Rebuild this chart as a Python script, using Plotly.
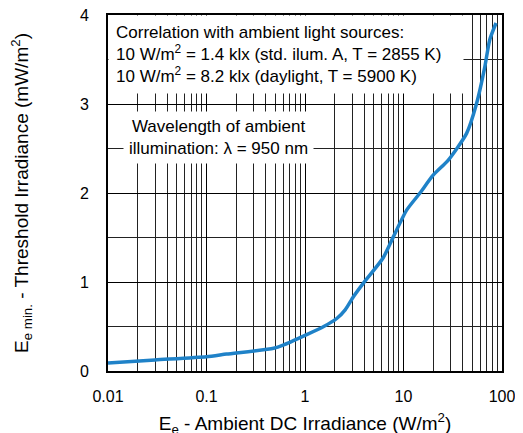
import plotly.graph_objects as go

# Data
ambient_irradiance = [0.01, 0.03, 0.1, 0.16, 0.48, 0.6, 1.0, 1.55, 2.1, 2.57, 3.1, 3.9,
                      6.2, 7.9, 10.8, 14.7, 20, 28.5, 43.7, 55, 67, 75, 87]
threshold_irradiance = [0.09, 0.124, 0.16, 0.19, 0.255, 0.29, 0.40, 0.50, 0.59, 0.69, 0.835, 0.985,
                        1.27, 1.51, 1.81, 2.0, 2.2, 2.37, 2.67, 3.0, 3.42, 3.72, 3.91]
x_tick_vals = [0.01, 0.1, 1, 10, 100]
x_tick_text = ["0.01", "0.1", "1", "10", "100"]
y_tick_vals = [0, 1, 2, 3, 4]

FONT = "Arial, Liberation Sans, sans-serif"

fig = go.Figure()
fig.add_trace(go.Scatter(
    x=ambient_irradiance, y=threshold_irradiance, mode="lines",
    line=dict(color="#1f82c8", width=3.5, shape="spline", smoothing=0.6),
    showlegend=False, hoverinfo="skip",
))

# The page body keeps its default 8px margin, so the margins are shifted accordingly.
fig.update_layout(
    width=515, height=429,
    margin=dict(l=100, r=21, t=7, b=66),
    paper_bgcolor="white", plot_bgcolor="white",
    font=dict(family=FONT, size=16, color="black"),
    xaxis=dict(
        type="log", range=[-2, 2],
        tickvals=x_tick_vals, ticktext=x_tick_text,
        showgrid=True, gridcolor="black", gridwidth=1,
        minor=dict(dtick="D1", showgrid=True, gridcolor="#222222", gridwidth=1, ticks=""),
        showline=True, linecolor="black", linewidth=2, mirror=True,
        ticks="", zeroline=False,
        title=dict(text="E<sub>e</sub> - Ambient DC Irradiance (W/m<sup>2</sup>)",
                   font=dict(size=19), standoff=31),
        tickfont=dict(size=16),
        ticklabelstandoff=10,
        ticklabeloverflow="allow",
        automargin=False,
    ),
    yaxis=dict(
        range=[0, 4], tickvals=y_tick_vals,
        showgrid=True, gridcolor="black", gridwidth=1,
        minor=dict(dtick=0.5, showgrid=True, gridcolor="#222222", gridwidth=1, ticks=""),
        showline=True, linecolor="black", linewidth=2, mirror=True,
        ticks="", zeroline=False,
        title=dict(text="E<sub>e min.</sub> - Threshold Irradiance (mW/m<sup>2</sup>)",
                   font=dict(size=19), standoff=48),
        tickfont=dict(size=16),
        ticklabelstandoff=14,
        ticklabeloverflow="allow",
        automargin=False,
    ),
    annotations=[
        dict(
            text="Correlation with ambient light sources:<br>"
                 "10 W/m<sup>2</sup> = 1.4 klx (std. ilum. A, T = 2855 K)<br>"
                 "10 W/m<sup>2</sup> = 8.2 klx (daylight, T = 5900 K)",
            xref="paper", yref="paper", x=0, y=1, xanchor="left", yanchor="top",
            showarrow=False, align="left", bgcolor="white", borderpad=7,
            width=340, font=dict(size=17),
        ),
        dict(
            text="Wavelength of ambient<br>illumination: \u03bb = 950 nm",
            xref="paper", yref="y", x=0.28, y=2.62, xanchor="center", yanchor="middle",
            showarrow=False, align="center", bgcolor="white", borderpad=5,
            font=dict(size=17),
        ),
    ],
)

fig.write_html("out.html")
